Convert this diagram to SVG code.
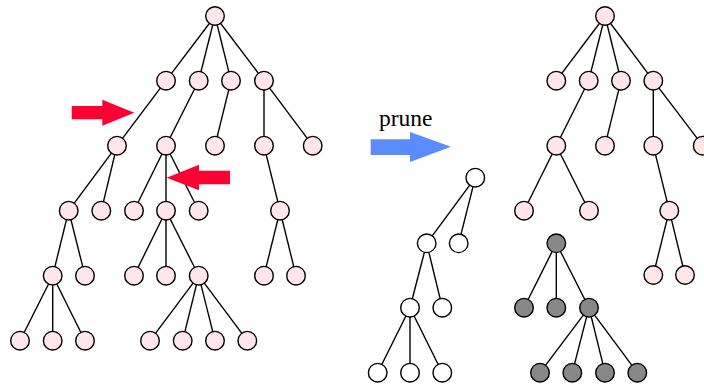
<svg xmlns="http://www.w3.org/2000/svg" width="704" height="385" viewBox="0 0 704 385">
<style>
.e line{stroke:#000;stroke-width:1.4}
circle{stroke:#000;stroke-width:1.4}
.p{fill:#FFE6EA}
.w{fill:#FFFFFF}
.g{fill:#888888}
</style>
<rect width="704" height="385" fill="#fff"/>
<g id="connectors" class="e">
<!-- left tree -->
<line x1="215" y1="16" x2="166" y2="80.7"/>
<line x1="215" y1="16" x2="198.7" y2="80.7"/>
<line x1="215" y1="16" x2="231" y2="80.7"/>
<line x1="215" y1="16" x2="264" y2="80.7"/>
<line x1="166" y1="80.7" x2="117" y2="145.7"/>
<line x1="198.7" y1="80.7" x2="166" y2="145.7"/>
<line x1="231" y1="80.7" x2="215" y2="145.7"/>
<line x1="264" y1="80.7" x2="264" y2="145.7"/>
<line x1="264" y1="80.7" x2="312.7" y2="145.7"/>
<line x1="117" y1="145.7" x2="68.7" y2="210.7"/>
<line x1="117" y1="145.7" x2="101.3" y2="210.7"/>
<line x1="166" y1="145.7" x2="134" y2="210.7"/>
<line x1="166" y1="145.7" x2="166" y2="210.7"/>
<line x1="166" y1="145.7" x2="198.7" y2="210.7"/>
<line x1="264" y1="145.7" x2="280" y2="210.7"/>
<line x1="68.7" y1="210.7" x2="52.7" y2="275.7"/>
<line x1="68.7" y1="210.7" x2="85" y2="275.7"/>
<line x1="166" y1="210.7" x2="134" y2="275.7"/>
<line x1="166" y1="210.7" x2="166" y2="275.7"/>
<line x1="166" y1="210.7" x2="198.7" y2="275.7"/>
<line x1="280" y1="210.7" x2="264" y2="275.7"/>
<line x1="280" y1="210.7" x2="296" y2="275.7"/>
<line x1="52.7" y1="275.7" x2="20" y2="340.7"/>
<line x1="52.7" y1="275.7" x2="52.7" y2="340.7"/>
<line x1="52.7" y1="275.7" x2="85" y2="340.7"/>
<line x1="198.7" y1="275.7" x2="150" y2="340.7"/>
<line x1="198.7" y1="275.7" x2="182.7" y2="340.7"/>
<line x1="198.7" y1="275.7" x2="215" y2="340.7"/>
<line x1="198.7" y1="275.7" x2="247.3" y2="340.7"/>
<!-- middle white subtree -->
<line x1="475.3" y1="177.7" x2="426.7" y2="243.3"/>
<line x1="475.3" y1="177.7" x2="458.7" y2="243.3"/>
<line x1="426.7" y1="243.3" x2="410" y2="307.7"/>
<line x1="426.7" y1="243.3" x2="442.3" y2="307.7"/>
<line x1="410" y1="307.7" x2="377.7" y2="372.7"/>
<line x1="410" y1="307.7" x2="410" y2="372.7"/>
<line x1="410" y1="307.7" x2="442.3" y2="372.7"/>
<!-- right tree -->
<line x1="605" y1="16" x2="556.3" y2="80.7"/>
<line x1="605" y1="16" x2="588.7" y2="80.7"/>
<line x1="605" y1="16" x2="621" y2="80.7"/>
<line x1="605" y1="16" x2="653.3" y2="80.7"/>
<line x1="588.7" y1="80.7" x2="556.3" y2="145.7"/>
<line x1="621" y1="80.7" x2="605" y2="145.7"/>
<line x1="653.3" y1="80.7" x2="653.3" y2="145.7"/>
<line x1="653.3" y1="80.7" x2="702.7" y2="145.7"/>
<line x1="556.3" y1="145.7" x2="524" y2="210.7"/>
<line x1="556.3" y1="145.7" x2="589" y2="210.7"/>
<line x1="653.3" y1="145.7" x2="669.3" y2="210.7"/>
<line x1="669.3" y1="210.7" x2="653.3" y2="275"/>
<line x1="669.3" y1="210.7" x2="685" y2="275"/>
<!-- gray subtree -->
<line x1="556.3" y1="243.3" x2="524" y2="307.7"/>
<line x1="556.3" y1="243.3" x2="556.3" y2="307.7"/>
<line x1="556.3" y1="243.3" x2="589" y2="307.7"/>
<line x1="589" y1="307.7" x2="540" y2="372.7"/>
<line x1="589" y1="307.7" x2="572.3" y2="372.7"/>
<line x1="589" y1="307.7" x2="605" y2="372.7"/>
<line x1="589" y1="307.7" x2="637.3" y2="372.7"/>
</g>
<g id="left-tree">
<g id="L0"><circle class="p" cx="215" cy="16" r="9.3"/></g>
<g id="L1a"><circle class="p" cx="166" cy="80.7" r="9.3"/></g>
<g id="L1b"><circle class="p" cx="198.7" cy="80.7" r="9.3"/></g>
<g id="L1c"><circle class="p" cx="231" cy="80.7" r="9.3"/></g>
<g id="L1d"><circle class="p" cx="264" cy="80.7" r="9.3"/></g>
<g id="L2a"><circle class="p" cx="117" cy="145.7" r="9.3"/></g>
<g id="L2b"><circle class="p" cx="166" cy="145.7" r="9.3"/></g>
<g id="L2c"><circle class="p" cx="215" cy="145.7" r="9.3"/></g>
<g id="L2d"><circle class="p" cx="264" cy="145.7" r="9.3"/></g>
<g id="L2e"><circle class="p" cx="312.7" cy="145.7" r="9.3"/></g>
<g id="L3a"><circle class="p" cx="68.7" cy="210.7" r="9.3"/></g>
<g id="L3b"><circle class="p" cx="101.3" cy="210.7" r="9.3"/></g>
<g id="L3c"><circle class="p" cx="134" cy="210.7" r="9.3"/></g>
<g id="L3d"><circle class="p" cx="166" cy="210.7" r="9.3"/></g>
<g id="L3e"><circle class="p" cx="198.7" cy="210.7" r="9.3"/></g>
<g id="L3f"><circle class="p" cx="280" cy="210.7" r="9.3"/></g>
<g id="L4a"><circle class="p" cx="52.7" cy="275.7" r="9.3"/></g>
<g id="L4b"><circle class="p" cx="85" cy="275.7" r="9.3"/></g>
<g id="L4c"><circle class="p" cx="134" cy="275.7" r="9.3"/></g>
<g id="L4d"><circle class="p" cx="166" cy="275.7" r="9.3"/></g>
<g id="L4e"><circle class="p" cx="198.7" cy="275.7" r="9.3"/></g>
<g id="L4f"><circle class="p" cx="264" cy="275.7" r="9.3"/></g>
<g id="L4g"><circle class="p" cx="296" cy="275.7" r="9.3"/></g>
<g id="L5a"><circle class="p" cx="20" cy="340.7" r="9.3"/></g>
<g id="L5b"><circle class="p" cx="52.7" cy="340.7" r="9.3"/></g>
<g id="L5c"><circle class="p" cx="85" cy="340.7" r="9.3"/></g>
<g id="L5d"><circle class="p" cx="150" cy="340.7" r="9.3"/></g>
<g id="L5e"><circle class="p" cx="182.7" cy="340.7" r="9.3"/></g>
<g id="L5f"><circle class="p" cx="215" cy="340.7" r="9.3"/></g>
<g id="L5g"><circle class="p" cx="247.3" cy="340.7" r="9.3"/></g>
</g>
<g id="pruned-subtree">
<g id="M0"><circle class="w" cx="475.3" cy="177.7" r="9.3"/></g>
<g id="M1a"><circle class="w" cx="426.7" cy="243.3" r="9.3"/></g>
<g id="M1b"><circle class="w" cx="458.7" cy="243.3" r="9.3"/></g>
<g id="M2a"><circle class="w" cx="410" cy="307.7" r="9.3"/></g>
<g id="M2b"><circle class="w" cx="442.3" cy="307.7" r="9.3"/></g>
<g id="M3a"><circle class="w" cx="377.7" cy="372.7" r="9.3"/></g>
<g id="M3b"><circle class="w" cx="410" cy="372.7" r="9.3"/></g>
<g id="M3c"><circle class="w" cx="442.3" cy="372.7" r="9.3"/></g>
</g>
<g id="right-tree">
<g id="R0"><circle class="p" cx="605" cy="16" r="9.3"/></g>
<g id="R1a"><circle class="p" cx="556.3" cy="80.7" r="9.3"/></g>
<g id="R1b"><circle class="p" cx="588.7" cy="80.7" r="9.3"/></g>
<g id="R1c"><circle class="p" cx="621" cy="80.7" r="9.3"/></g>
<g id="R1d"><circle class="p" cx="653.3" cy="80.7" r="9.3"/></g>
<g id="R2a"><circle class="p" cx="556.3" cy="145.7" r="9.3"/></g>
<g id="R2b"><circle class="p" cx="605" cy="145.7" r="9.3"/></g>
<g id="R2c"><circle class="p" cx="653.3" cy="145.7" r="9.3"/></g>
<g id="R2d"><circle class="p" cx="702.7" cy="145.7" r="9.3"/></g>
<g id="R3a"><circle class="p" cx="524" cy="210.7" r="9.3"/></g>
<g id="R3b"><circle class="p" cx="589" cy="210.7" r="9.3"/></g>
<g id="R3c"><circle class="p" cx="669.3" cy="210.7" r="9.3"/></g>
<g id="R4a"><circle class="p" cx="653.3" cy="275" r="9.3"/></g>
<g id="R4b"><circle class="p" cx="685" cy="275" r="9.3"/></g>
</g>
<g id="gray-subtree">
<g id="G0"><circle class="g" cx="556.3" cy="243.3" r="9.3"/></g>
<g id="G1a"><circle class="g" cx="524" cy="307.7" r="9.3"/></g>
<g id="G1b"><circle class="g" cx="556.3" cy="307.7" r="9.3"/></g>
<g id="G1c"><circle class="g" cx="589" cy="307.7" r="9.3"/></g>
<g id="G2a"><circle class="g" cx="540" cy="372.7" r="9.3"/></g>
<g id="G2b"><circle class="g" cx="572.3" cy="372.7" r="9.3"/></g>
<g id="G2c"><circle class="g" cx="605" cy="372.7" r="9.3"/></g>
<g id="G2d"><circle class="g" cx="637.3" cy="372.7" r="9.3"/></g>
</g>
<g id="red-arrow-1"><polygon fill="#FF0033" points="71.7,106 102.3,106 102.3,99.7 134.3,112.7 102.3,125.7 102.3,119.3 71.7,119.3"/></g>
<g id="red-arrow-2"><polygon fill="#FF0033" points="230,170.7 199,170.7 199,164.7 166.7,177.7 199,190.3 199,184.3 230,184.3"/></g>
<g id="prune-arrow">
<polygon fill="#5B8CFF" points="370.7,139.3 410,139.3 410,132 451,146.7 410,162 410,155 370.7,155"/>
<text x="379" y="126" font-family="'Liberation Serif', serif" font-size="23.5" fill="#000">prune</text>
</g>
</svg>
